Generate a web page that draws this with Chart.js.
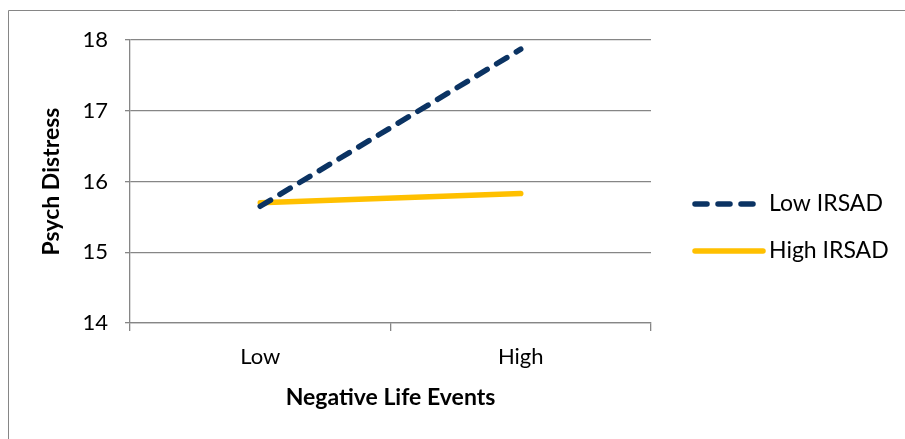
<!DOCTYPE html>
<html>
<head>
<meta charset="utf-8">
<script src="https://cdn.jsdelivr.net/npm/chart.js@4.4.1/dist/chart.umd.min.js"></script>
<style>
  html, body { margin: 0; padding: 0; background: #fff; }
  canvas { display: block; }
</style>
</head>
<body>
<canvas id="c" width="905" height="439"></canvas>
<script>
// Interaction plot: psychological distress by negative life events and IRSAD level
const categories = ['Low', 'High'];
const lowIrsad = [15.65, 17.87];
const highIrsad = [15.70, 15.83];
const seriesNames = ['Low IRSAD', 'High IRSAD'];
const yTicks = [14, 15, 16, 17, 18];

const FONT = 'Lato, "Open Sans", sans-serif';
const GRID = '#868686';

// Legend drawn at the right side, using each dataset's own line style
const sideLegend = {
  id: 'sideLegend',
  afterDraw(chart) {
    const ctx = chart.ctx;
    const rows = [204, 251];
    chart.data.datasets.forEach((ds, i) => {
      const y = rows[i];
      ctx.save();
      ctx.strokeStyle = ds.borderColor;
      ctx.lineWidth = ds.borderWidth;
      ctx.lineCap = 'round';
      ctx.setLineDash(ds.borderDash || []);
      ctx.beginPath();
      ctx.moveTo(695, y);
      ctx.lineTo(i === 0 ? 760 : 763, y);
      ctx.stroke();
      ctx.setLineDash([]);
      ctx.fillStyle = '#000';
      ctx.font = '23px ' + FONT;
      ctx.textBaseline = 'middle';
      ctx.fillText(ds.label, 769, y);
      ctx.restore();
    });
    // Frame around the chart (top and left edges fall inside the canvas)
    ctx.save();
    ctx.strokeStyle = GRID;
    ctx.lineWidth = 1;
    ctx.beginPath();
    ctx.moveTo(8.5, 439);
    ctx.lineTo(8.5, 10.5);
    ctx.lineTo(905, 10.5);
    ctx.stroke();
    ctx.restore();
  }
};

new Chart(document.getElementById('c'), {
  type: 'line',
  data: {
    labels: categories,
    datasets: [
      {
        label: seriesNames[0],
        data: lowIrsad,
        borderColor: '#0B3363',
        borderWidth: 5.5,
        borderDash: [12, 11],
        borderCapStyle: 'round',
        pointRadius: 0,
        fill: false,
        tension: 0
      },
      {
        label: seriesNames[1],
        data: highIrsad,
        borderColor: '#FFC000',
        borderWidth: 5.5,
        borderCapStyle: 'round',
        pointRadius: 0,
        fill: false,
        tension: 0
      }
    ]
  },
  options: {
    responsive: false,
    animation: false,
    layout: { padding: { left: 0, top: 40, right: 254, bottom: 0 } },
    plugins: {
      legend: { display: false },
      tooltip: { enabled: false }
    },
    scales: {
      x: {
        type: 'category',
        offset: true,
        afterFit(s) { s.height = 116; },
        grid: {
          offset: true,
          drawOnChartArea: false,
          color: GRID,
          lineWidth: 1.3,
          tickLength: 8
        },
        border: { color: GRID, width: 1.3 },
        ticks: {
          color: '#000',
          padding: 13,
          font: { family: FONT, size: 22 }
        },
        title: {
          display: true,
          text: 'Negative Life Events',
          color: '#000',
          font: { family: FONT, size: 23, weight: 'bold' },
          padding: { top: 0, bottom: 28 }
        }
      },
      y: {
        min: 14,
        max: 18,
        afterFit(s) { s.width = 130; },
        afterBuildTicks(s) { s.ticks = yTicks.map(v => ({ value: v })); },
        grid: {
          color: GRID,
          lineWidth: 1.3,
          tickLength: 5
        },
        border: { color: GRID, width: 1.3 },
        ticks: {
          color: '#000',
          padding: 17,
          font: { family: FONT, size: 22 }
        },
        title: {
          display: true,
          text: 'Psych Distress',
          color: '#000',
          font: { family: FONT, size: 23, weight: 'bold' },
          padding: { top: 38, bottom: 0 }
        }
      }
    }
  },
  plugins: [sideLegend]
});
</script>
</body>
</html>
